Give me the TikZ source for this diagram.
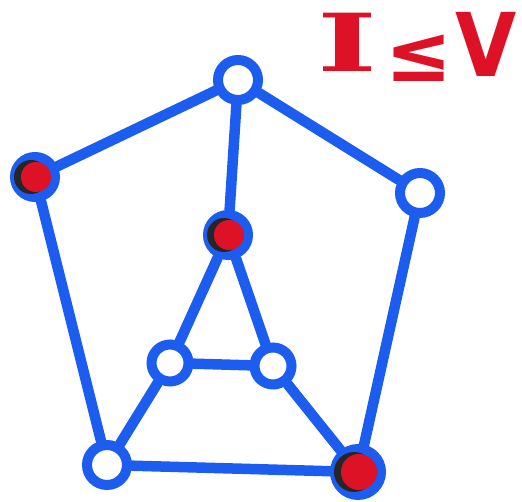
\documentclass[tikz,border=0pt]{standalone}
\usepackage{fontspec}
\newfontfamily\dserif{DejaVu Serif}
\newfontfamily\dsans{DejaVu Sans}
\definecolor{pen}{RGB}{28,92,238}
\definecolor{ink}{RGB}{222,18,38}
\tikzset{
  vert/.style={circle,draw=pen,line width=10pt,inner sep=0pt,minimum size=40pt,fill=white},
  edge/.style={draw=pen,line width=10.5pt,line cap=round},
  glyph/.style={text=ink,inner sep=0pt}
}
\begin{document}
\begin{tikzpicture}[x=1pt,y=-1pt]
\useasboundingbox (0,0) rectangle (522,502);
\node[vert] (T) at (238,80) {};
\node[vert] (L) at (35,177) {};
\node[vert] (R) at (420,193) {};
\node[vert] (C) at (228,235) {};
\node[vert,minimum size=37pt] (IL) at (170,363) {};
\node[vert,minimum size=37pt] (IR) at (273,366) {};
\node[vert] (BL) at (107,465) {};
\node[vert,minimum size=46pt] (BR) at (358,472) {};
\draw[edge] (T) -- (L);
\draw[edge] (T) -- (R);
\draw[edge] (T) -- (C);
\draw[edge] (L) -- (BL);
\draw[edge] (R) -- (BR);
\draw[edge] (C) -- (IL);
\draw[edge] (C) -- (IR);
\draw[edge] (IL) -- (IR);
\draw[edge] (IL) -- (BL);
\draw[edge] (IR) -- (BR);
\draw[edge] (BL) -- (BR);
% red filled vertices with dark left edge
\foreach \v/\r/\s in {L/17pt/15pt,C/17pt/15pt,BR/20pt/18pt}{
  \fill[black!85] ([xshift=-4pt]\v.center) circle (\r);
  \fill[ink] ([xshift=1pt]\v.center) circle (\s);
}
\node[glyph,font=\dserif\bfseries\fontsize{80}{80}\selectfont,xscale=1.6] (tI) at (347,42) {I};
\node[glyph,font=\dsans\bfseries\fontsize{80}{80}\selectfont] (tle) at (419,58) {≤};
\node[glyph,font=\dsans\bfseries\fontsize{88}{88}\selectfont,xscale=0.9] (tV) at (486,44) {V};
\end{tikzpicture}
\end{document}
